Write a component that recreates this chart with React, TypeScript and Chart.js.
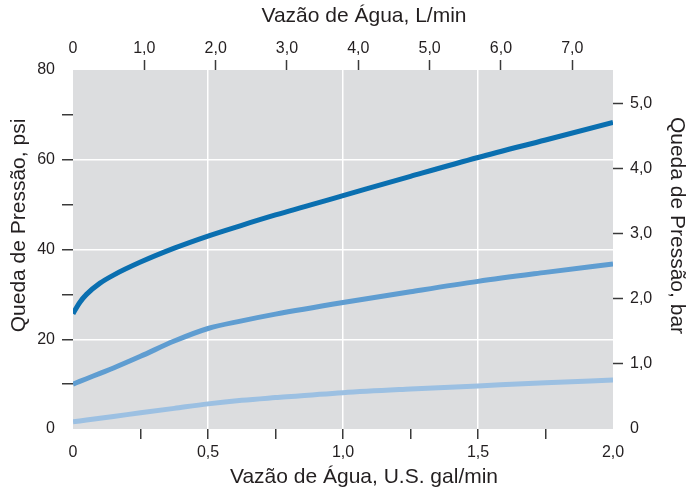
import React, { useEffect, useRef } from 'react';
import { Chart, registerables } from 'chart.js';

Chart.register(...registerables);

// ---- data (flow in U.S. gal/min, pressure drop in psi) ----
const flowGpm = [0, 0.025, 0.05, 0.1, 0.15, 0.25, 0.375, 0.5, 0.625, 0.75, 1.0, 1.25, 1.5, 1.75, 2.0];
const dropHigh = [25.7, 28.2, 30.0, 32.5, 34.3, 37.2, 40.3, 43.0, 45.4, 47.7, 52.0, 56.3, 60.5, 64.4, 68.3];
const dropMid = [10.0, 10.6, 11.2, 12.4, 13.6, 16.2, 19.6, 22.4, 24.1, 25.6, 28.2, 30.6, 32.9, 34.9, 36.8];
const dropLow = [1.6, 1.8, 2.0, 2.4, 2.8, 3.6, 4.6, 5.6, 6.4, 7.0, 8.1, 8.9, 9.6, 10.3, 10.9];

// ---- axis ticks ----
const gpmTicks = [0, 0.25, 0.5, 0.75, 1.0, 1.25, 1.5, 1.75, 2.0];
const gpmLabels = ['0', '', '0,5', '', '1,0', '', '1,5', '', '2,0'];
const gpmGrid = [0.5, 1.0, 1.5];

const lpmTicks = [0, 1, 2, 3, 4, 5, 6, 7];
const lpmLabels = ['0', '1,0', '2,0', '3,0', '4,0', '5,0', '6,0', '7,0'];

const psiTicks = [0, 10, 20, 30, 40, 50, 60, 70, 80];
const psiLabels = ['0', '', '20', '', '40', '', '60', '', '80'];
const psiGrid = [20, 40, 60];

const barTicks = [0, 1, 2, 3, 4, 5];
const barLabels = ['0', '1,0', '2,0', '3,0', '4,0', '5,0'];

// ---- axis titles ----
const titleBottom = 'Vazão de Água, U.S. gal/min';
const titleTop = 'Vazão de Água, L/min';
const titleLeft = 'Queda de Pressão, psi';
const titleRight = 'Queda de Pressão, bar';

const LITERS_PER_GALLON = 3.78541;
const PSI_PER_BAR = 14.5038;

const FONT = '"Liberation Sans", Arial, sans-serif';
const TEXT = '#231f20';
const TICK = '#3a3a3a';
const PLOT_BG = '#dcdddf';
const NONE = 'rgba(0,0,0,0)';

const plotBg = {
  id: 'plotBg',
  beforeDraw(chart: any) {
    const { ctx, chartArea } = chart;
    if (!chartArea) return;
    ctx.save();
    ctx.fillStyle = PLOT_BG;
    ctx.fillRect(chartArea.left, chartArea.top, chartArea.right - chartArea.left, chartArea.bottom - chartArea.top);
    ctx.restore();
  },
};

// axis titles, placed relative to the plot area (the original sets them off-centre)
const axisTitles = {
  id: 'axisTitles',
  afterDraw(chart: any) {
    const { ctx, chartArea: a, width, height } = chart;
    if (!a) return;
    const cx = (a.left + a.right) / 2 + 21;
    const cy = (a.top + a.bottom) / 2 - 24;
    ctx.save();
    ctx.fillStyle = TEXT;
    ctx.font = `21px ${FONT}`;
    ctx.textAlign = 'center';
    ctx.textBaseline = 'middle';
    ctx.fillText(titleTop, cx, 16);
    ctx.fillText(titleBottom, cx, height - 17);
    ctx.save();
    ctx.translate(19, cy);
    ctx.rotate(-Math.PI / 2);
    ctx.fillText(titleLeft, 0, 0);
    ctx.restore();
    ctx.save();
    ctx.translate(width - 20, cy);
    ctx.rotate(Math.PI / 2);
    ctx.fillText(titleRight, 0, 0);
    ctx.restore();
    ctx.restore();
  },
};

const tickFont = { family: FONT, size: 16 };

export default function App() {
  const ref = useRef<HTMLCanvasElement | null>(null);

  useEffect(() => {
    document.body.style.margin = '0';
    const canvas = ref.current;
    if (!canvas) return;
    const mk = (ys: number[]) => flowGpm.map((x, i) => ({ x, y: ys[i] }));
    const line = (data: any, color: string, width: number) => ({
      data,
      borderColor: color,
      backgroundColor: color,
      borderWidth: width,
      pointRadius: 0,
      fill: false,
      cubicInterpolationMode: 'monotone' as const,
      borderCapStyle: 'butt' as const,
      xAxisID: 'x',
      yAxisID: 'y',
    });

    const chart = new Chart(canvas, {
      type: 'line',
      data: {
        datasets: [
          line(mk(dropLow), '#9cc0e2', 5),
          line(mk(dropMid), '#5f9dd1', 5),
          line(mk(dropHigh), '#0a6fb0', 5),
        ],
      },
      plugins: [plotBg, axisTitles],
      options: {
        responsive: false,
        animation: false,
        layout: { padding: 0 },
        plugins: { legend: { display: false }, tooltip: { enabled: false } },
        scales: {
          x: {
            type: 'linear',
            position: 'bottom',
            min: 0,
            max: 2,
            afterBuildTicks: (s: any) => { s.ticks = gpmTicks.map((v) => ({ value: v })); },
            afterFit: (s: any) => { s.height = 65; },
            ticks: {
              autoSkip: false, maxRotation: 0, minRotation: 0, padding: 4, color: TEXT, font: tickFont,
              callback: (_v: any, i: number) => gpmLabels[i],
            },
            grid: {
              color: (c: any) => (c.tick && gpmGrid.includes(c.tick.value) ? '#ffffff' : NONE),
              lineWidth: 1.5,
              tickColor: (c: any) => (c.tick && (c.tick.value === 0 || c.tick.value === 2) ? NONE : TICK),
              tickLength: 10,
              tickWidth: 1.5,
            },
            border: { display: false },
          },
          x2: {
            type: 'linear',
            position: 'top',
            min: 0,
            max: 2 * LITERS_PER_GALLON,
            afterBuildTicks: (s: any) => { s.ticks = lpmTicks.map((v) => ({ value: v })); },
            afterFit: (s: any) => { s.height = 70; },
            ticks: {
              autoSkip: false, maxRotation: 0, minRotation: 0, padding: 2, color: TEXT, font: tickFont,
              callback: (_v: any, i: number) => lpmLabels[i],
            },
            grid: {
              drawOnChartArea: false,
              tickColor: (c: any) => (c.tick && c.tick.value === 0 ? NONE : TICK),
              tickLength: 10,
              tickWidth: 1.5,
            },
            border: { display: false },
          },
          y: {
            type: 'linear',
            position: 'left',
            min: 0,
            max: 80,
            afterBuildTicks: (s: any) => { s.ticks = psiTicks.map((v) => ({ value: v })); },
            afterFit: (s: any) => { s.width = 73; },
            ticks: {
              autoSkip: false, padding: 7, color: TEXT, font: tickFont,
              callback: (_v: any, i: number) => psiLabels[i],
            },
            grid: {
              color: (c: any) => (c.tick && psiGrid.includes(c.tick.value) ? '#ffffff' : NONE),
              lineWidth: 1.5,
              tickColor: (c: any) => (c.tick && (c.tick.value === 0 || c.tick.value === 80) ? NONE : TICK),
              tickLength: 11,
              tickWidth: 1.5,
            },
            border: { display: false },
          },
          y2: {
            type: 'linear',
            position: 'right',
            min: 0,
            max: 80 / PSI_PER_BAR,
            afterBuildTicks: (s: any) => { s.ticks = barTicks.map((v) => ({ value: v })); },
            afterFit: (s: any) => { s.width = 84; },
            ticks: {
              autoSkip: false, padding: 7, color: TEXT, font: tickFont,
              callback: (_v: any, i: number) => barLabels[i],
            },
            grid: {
              drawOnChartArea: false,
              tickColor: (c: any) => (c.tick && c.tick.value === 0 ? NONE : TICK),
              tickLength: 10,
              tickWidth: 1.5,
            },
            border: { display: false },
          },
        },
      },
    } as any);

    return () => chart.destroy();
  }, []);

  return <canvas ref={ref} width={697} height={494} style={{ display: 'block' }} />;
}
